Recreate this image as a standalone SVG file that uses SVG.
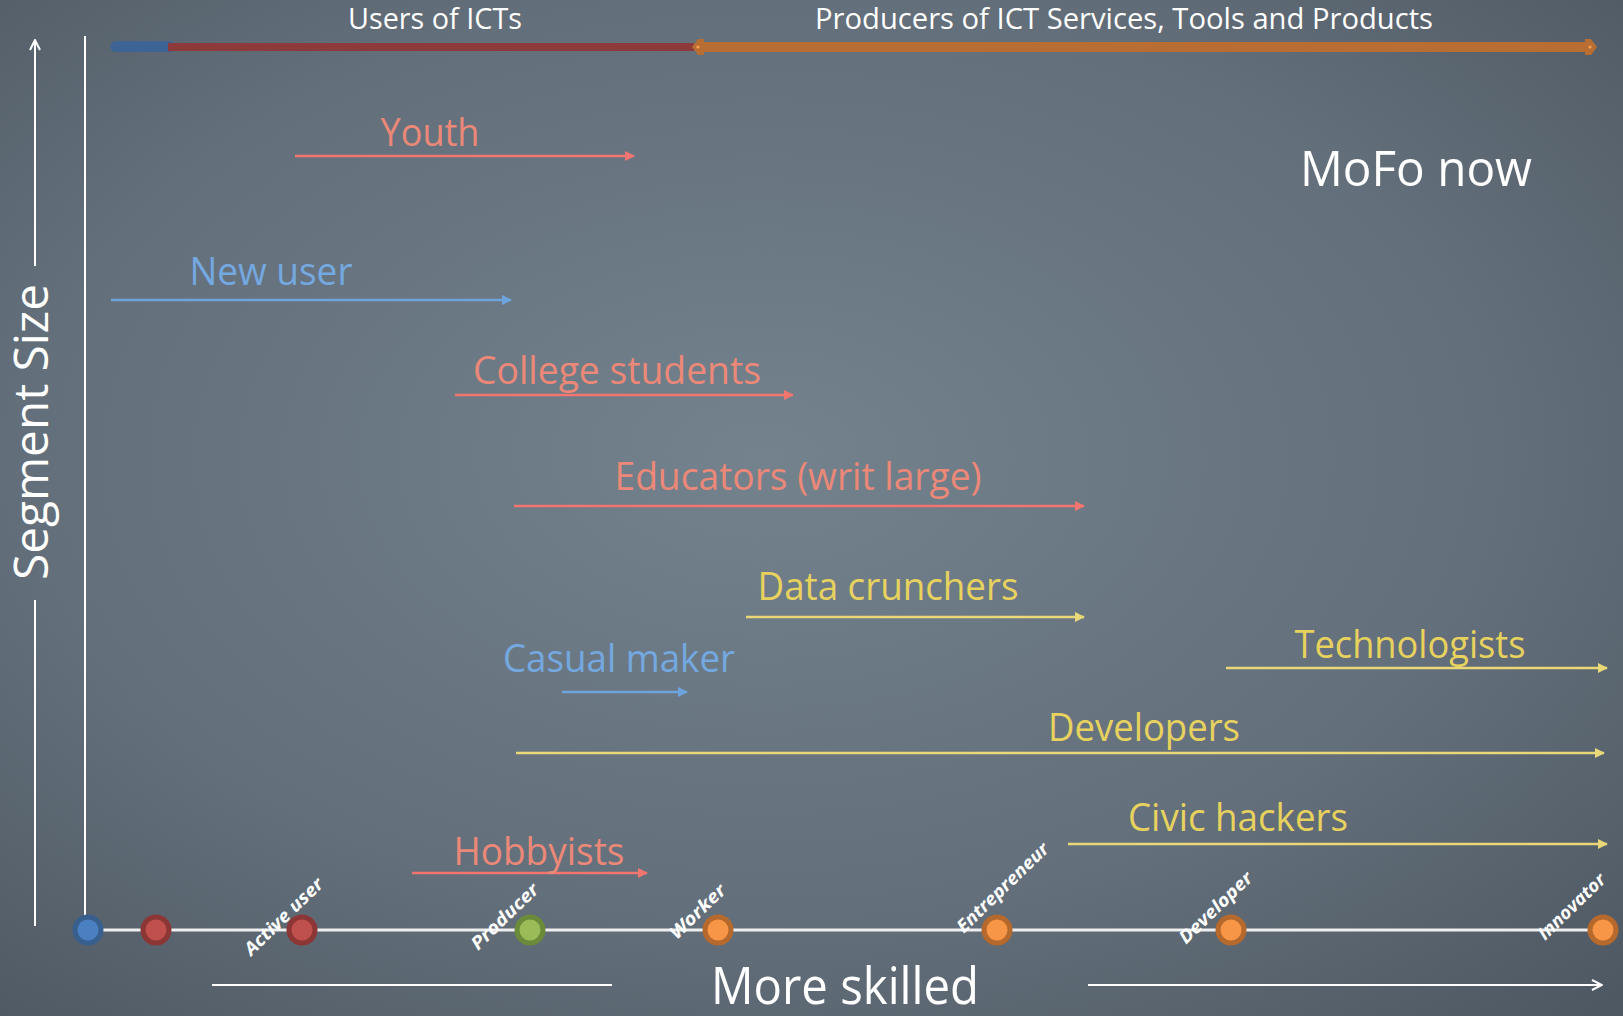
<svg xmlns="http://www.w3.org/2000/svg" width="1623" height="1016" viewBox="0 0 1623 1016">
<defs>
<radialGradient id="bg" cx="0.47" cy="0.45" r="0.75">
<stop offset="0" stop-color="#73828d"/>
<stop offset="0.6" stop-color="#636f7a"/>
<stop offset="1" stop-color="#4e5863"/>
</radialGradient>
<marker id="hR" viewBox="0 0 10 10" refX="9" refY="5" markerWidth="10" markerHeight="10" markerUnits="userSpaceOnUse" orient="auto"><path d="M0,0 L10,5 L0,10 z" fill="#f47470"/></marker>
<marker id="hB" viewBox="0 0 10 10" refX="9" refY="5" markerWidth="10" markerHeight="10" markerUnits="userSpaceOnUse" orient="auto"><path d="M0,0 L10,5 L0,10 z" fill="#6fa3dc"/></marker>
<marker id="hY" viewBox="0 0 10 10" refX="9" refY="5" markerWidth="10" markerHeight="10" markerUnits="userSpaceOnUse" orient="auto"><path d="M0,0 L10,5 L0,10 z" fill="#ead878"/></marker>
<marker id="hW" viewBox="0 0 12 12" refX="11" refY="6" markerWidth="12" markerHeight="12" markerUnits="userSpaceOnUse" orient="auto"><path d="M1,1 L11,6 L1,11" fill="none" stroke="#ffffff" stroke-width="2"/></marker>
</defs>
<style>
text{font-family:"Open Sans","Liberation Sans",sans-serif}
.w{fill:#ffffff}
.seg{font-size:38px}
.r{fill:#ec8878}
.b{fill:#74a8e0}
.y{fill:#e8d25e}
.lr{stroke:#f47470;stroke-width:2.5;fill:none;marker-end:url(#hR)}
.lb{stroke:#6fa3dc;stroke-width:2.5;fill:none;marker-end:url(#hB)}
.ly{stroke:#ead878;stroke-width:2.5;fill:none;marker-end:url(#hY)}
.ax{stroke:#ffffff;stroke-width:2;fill:none}
.lab{font-size:18px;font-weight:bold;font-style:italic;fill:#ffffff}
</style>
<rect x="0" y="0" width="1623" height="1016" fill="url(#bg)"/>

<g id="axes">
<line class="ax" x1="35" y1="926" x2="35" y2="600"/>
<line class="ax" x1="35" y1="266" x2="35" y2="40" marker-end="url(#hW)"/>
<text class="w" font-size="47" text-anchor="middle" textLength="296" lengthAdjust="spacingAndGlyphs" transform="translate(48,432) rotate(-90)">Segment Size</text>
<line class="ax" x1="85" y1="36" x2="85" y2="915"/>
<line x1="88" y1="930" x2="1603" y2="930" stroke="#eeeeee" stroke-width="3"/>
<line class="ax" x1="212" y1="985" x2="612" y2="985"/>
<line class="ax" x1="1088" y1="985" x2="1602" y2="985" marker-end="url(#hW)"/>
<text class="w" font-size="52" x="845" y="1004" text-anchor="middle" textLength="268" lengthAdjust="spacingAndGlyphs">More skilled</text>
</g>

<g id="topbar">
<line x1="116" y1="46.5" x2="170" y2="46.5" stroke="#3d6494" stroke-width="11" stroke-linecap="round"/>
<line x1="170" y1="47" x2="694" y2="47" stroke="#8f3a3a" stroke-width="8"/>
<polygon points="168,42 174,47 168,52" fill="#8f3a3a"/>
<rect x="700" y="42" width="888" height="10" fill="#b86e32"/>
<polygon points="692,47 698,39 704,39 704,55 698,55" fill="#b86e32"/>
<polygon points="1585,39 1591,39 1597,47 1591,55 1585,55" fill="#b86e32"/>
<circle cx="698" cy="47" r="1.6" fill="#f7a050"/>
<circle cx="1590" cy="47" r="1.6" fill="#f7a050"/>
<text class="w" font-size="29" x="435" y="29" text-anchor="middle" textLength="174" lengthAdjust="spacingAndGlyphs">Users of ICTs</text>
<text class="w" font-size="29" x="1124" y="29" text-anchor="middle" textLength="618" lengthAdjust="spacingAndGlyphs">Producers of ICT Services, Tools and Products</text>
</g>

<text class="w" font-size="50" x="1416" y="186" text-anchor="middle" textLength="232" lengthAdjust="spacingAndGlyphs">MoFo now</text>

<g id="connectors">
<line class="lr" x1="295" y1="156" x2="634" y2="156"/>
<line class="lb" x1="111" y1="300" x2="511" y2="300"/>
<line class="lr" x1="455" y1="395" x2="793" y2="395"/>
<line class="lr" x1="514" y1="506" x2="1084" y2="506"/>
<line class="ly" x1="746" y1="617" x2="1084" y2="617"/>
<line class="lb" x1="562" y1="692" x2="687" y2="692"/>
<line class="ly" x1="1226" y1="668" x2="1607" y2="668"/>
<line class="ly" x1="516" y1="753" x2="1604" y2="753"/>
<line class="ly" x1="1068" y1="844" x2="1607" y2="844"/>
<line class="lr" x1="412" y1="873" x2="647" y2="873"/>
</g>

<g id="youth"><text class="seg r" x="430" y="146" text-anchor="middle" textLength="99" lengthAdjust="spacingAndGlyphs">Youth</text></g>
<g id="new-user"><text class="seg b" x="271" y="285" text-anchor="middle" textLength="163" lengthAdjust="spacingAndGlyphs">New user</text></g>
<g id="college-students"><text class="seg r" x="617" y="384" text-anchor="middle" textLength="288" lengthAdjust="spacingAndGlyphs">College students</text></g>
<g id="educators"><text class="seg r" x="798" y="490" text-anchor="middle" textLength="367" lengthAdjust="spacingAndGlyphs">Educators (writ large)</text></g>
<g id="data-crunchers"><text class="seg y" x="888" y="600" text-anchor="middle" textLength="261" lengthAdjust="spacingAndGlyphs">Data crunchers</text></g>
<g id="casual-maker"><text class="seg b" x="619" y="672" text-anchor="middle" textLength="232" lengthAdjust="spacingAndGlyphs">Casual maker</text></g>
<g id="technologists"><text class="seg y" x="1410" y="658" text-anchor="middle" textLength="231" lengthAdjust="spacingAndGlyphs">Technologists</text></g>
<g id="developers"><text class="seg y" x="1144" y="741" text-anchor="middle" textLength="192" lengthAdjust="spacingAndGlyphs">Developers</text></g>
<g id="civic-hackers"><text class="seg y" x="1238" y="831" text-anchor="middle" textLength="220" lengthAdjust="spacingAndGlyphs">Civic hackers</text></g>
<g id="hobbyists"><text class="seg r" x="539" y="865" text-anchor="middle" textLength="171" lengthAdjust="spacingAndGlyphs">Hobbyists</text></g>

<g id="dot-blue"><circle cx="88" cy="930" r="13" fill="#4a80c2" stroke="#395f8e" stroke-width="5"/></g>
<g id="dot-red1"><circle cx="156" cy="930" r="13" fill="#c0504d" stroke="#8c3636" stroke-width="5"/></g>
<g id="active-user"><circle cx="302" cy="930" r="13" fill="#c0504d" stroke="#8c3636" stroke-width="5"/>
<text class="lab" text-anchor="middle" dominant-baseline="central" textLength="102" lengthAdjust="spacingAndGlyphs" transform="translate(283,916) rotate(-44)">Active user</text></g>
<g id="producer"><circle cx="530" cy="930" r="13" fill="#9bbb59" stroke="#6b8a3a" stroke-width="5"/>
<text class="lab" text-anchor="middle" dominant-baseline="central" textLength="86" lengthAdjust="spacingAndGlyphs" transform="translate(504,916) rotate(-44)">Producer</text></g>
<g id="worker"><circle cx="718" cy="930" r="13" fill="#f79646" stroke="#b5692c" stroke-width="5"/>
<text class="lab" text-anchor="middle" dominant-baseline="central" textLength="70" lengthAdjust="spacingAndGlyphs" transform="translate(697,911) rotate(-44)">Worker</text></g>
<g id="entrepreneur"><circle cx="997" cy="930" r="13" fill="#f79646" stroke="#b5692c" stroke-width="5"/>
<text class="lab" text-anchor="middle" dominant-baseline="central" textLength="120" lengthAdjust="spacingAndGlyphs" transform="translate(1002,887) rotate(-44)">Entrepreneur</text></g>
<g id="developer"><circle cx="1231" cy="930" r="13" fill="#f79646" stroke="#b5692c" stroke-width="5"/>
<text class="lab" text-anchor="middle" dominant-baseline="central" textLength="94" lengthAdjust="spacingAndGlyphs" transform="translate(1215,907) rotate(-44)">Developer</text></g>
<g id="innovator"><circle cx="1603" cy="930" r="13" fill="#f79646" stroke="#b5692c" stroke-width="5"/>
<text class="lab" text-anchor="middle" dominant-baseline="central" textLength="86" lengthAdjust="spacingAndGlyphs" transform="translate(1571,906) rotate(-44)">Innovator</text></g>
</svg>
